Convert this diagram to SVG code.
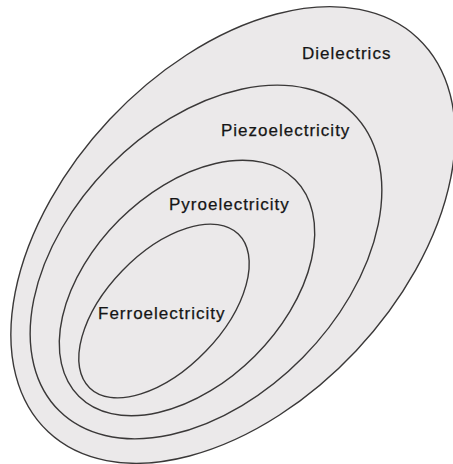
<svg xmlns="http://www.w3.org/2000/svg" width="453" height="464" viewBox="0 0 453 464">
<style>
.set{fill:#ebe9ea;stroke:#3a3838;stroke-width:1.4}
.lbl{font-family:"Liberation Sans",Arial,sans-serif;font-size:17px;fill:#151515;stroke:#151515;stroke-width:0.25;letter-spacing:1px}
</style>
<rect width="453" height="464" fill="#ffffff"/>
<g id="dielectrics">
<ellipse class="set" cx="233" cy="235" rx="270" ry="169" transform="rotate(-46.8 233 235)"/>
<text class="lbl" x="302" y="59">Dielectrics</text>
</g>
<g id="piezoelectricity">
<ellipse class="set" cx="206" cy="262" rx="209" ry="136" transform="rotate(-45.4 206 262)"/>
<text class="lbl" x="221" y="136">Piezoelectricity</text>
</g>
<g id="pyroelectricity">
<ellipse class="set" cx="187" cy="288" rx="153" ry="96" transform="rotate(-45 187 288)"/>
<text class="lbl" x="169" y="210">Pyroelectricity</text>
</g>
<g id="ferroelectricity">
<ellipse class="set" cx="164" cy="311" rx="107" ry="58" transform="rotate(-46 164 311)"/>
<text class="lbl" x="98" y="319">Ferroelectricity</text>
</g>
<g id="connectors"></g>
</svg>
